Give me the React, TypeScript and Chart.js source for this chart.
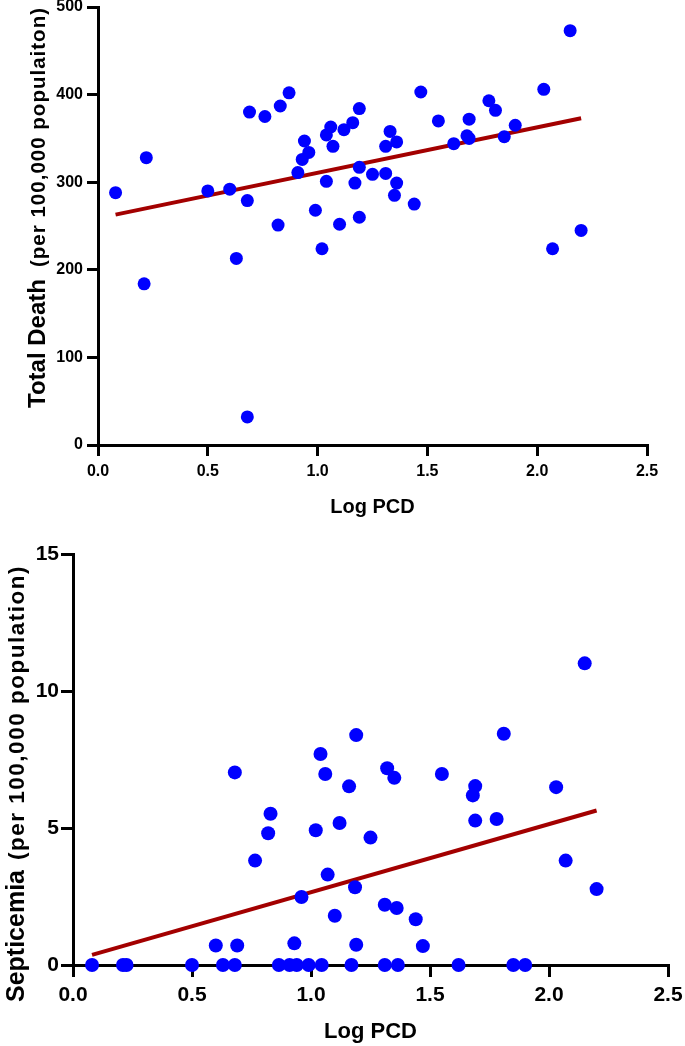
import React, { useEffect, useRef } from "react";
import { Chart, registerables } from "chart.js";

Chart.register(...registerables);

// ---------- data ----------
const topLogPCD = [
  0.08, 0.21, 0.22, 0.5, 0.6, 0.63, 0.68, 0.68, 0.69, 0.76, 0.82, 0.83, 0.87,
  0.91, 0.93, 0.94, 0.96, 0.99, 1.02, 1.04, 1.04, 1.06, 1.07, 1.1, 1.12, 1.16,
  1.17, 1.19, 1.19, 1.19, 1.25, 1.31, 1.31, 1.33, 1.36, 1.36, 1.35, 1.44, 1.47,
  1.55, 1.62, 1.68, 1.69, 1.69, 1.78, 1.81, 1.85, 1.9, 2.03, 2.07, 2.15, 2.2,
];
const topTotalDeath = [
  288, 184, 328, 290, 292, 213, 279, 32, 380, 375, 251, 387, 402,
  311, 326, 347, 334, 268, 224, 301, 354, 363, 341, 252, 360, 368,
  299, 384, 317, 260, 309, 310, 341, 358, 346, 299, 285, 275, 403,
  370, 344, 353, 350, 372, 393, 382, 352, 365, 406, 224, 473, 245,
];
const topFitX = [0.08, 2.2];
const topFitY = [263, 373];

const bottomLogPCD = [
  0.08, 0.21, 0.225, 0.5, 0.6, 0.63, 0.68, 0.68, 0.69, 0.765, 0.82, 0.83, 0.865,
  0.91, 0.93, 0.94, 0.96, 0.99, 1.02, 1.04, 1.045, 1.06, 1.07, 1.1, 1.12, 1.16,
  1.17, 1.185, 1.19, 1.19, 1.25, 1.31, 1.31, 1.32, 1.35, 1.36, 1.365, 1.44, 1.47,
  1.55, 1.62, 1.68, 1.69, 1.69, 1.78, 1.81, 1.85, 1.9, 2.03, 2.07, 2.15, 2.2,
];
const bottomSepticemia = [
  0, 0, 0, 0, 0.71, 0, 0, 7.03, 0.71, 3.81, 4.81, 5.52, 0,
  0, 0.79, 0, 2.48, 0, 4.92, 7.7, 0, 6.97, 3.3, 1.8, 5.18, 6.52,
  0, 2.84, 8.39, 0.74, 4.65, 2.2, 0, 7.18, 6.83, 2.08, 0, 1.67, 0.69,
  6.97, 0, 6.19, 6.53, 5.27, 5.33, 8.44, 0, 0, 6.49, 3.81, 11.01, 2.77,
];
const bottomFitX = [0.08, 2.2];
const bottomFitY = [0.37, 5.64];

const xTicks = [0, 0.5, 1, 1.5, 2, 2.5];
const topYTicks = [0, 100, 200, 300, 400, 500];
const bottomYTicks = [0, 5, 10, 15];

const xTitle = "Log PCD";
const topYTitleMain = "Total Death";
const topYTitleSub = "(per 100,000 populaiton)";
const bottomYTitleMain = "Septicemia";
const bottomYTitleSub = "(per 100,000 population)";

// ---------- styling ----------
const FAMILY = '"Liberation Sans", Arial, Helvetica, sans-serif';
const POINT_COLOR = "#0000FF";
const LINE_COLOR = "#A30000";

const yTitlePlugin = {
  id: "yTitle",
  afterDraw(chart: any, _args: any, opts: any) {
    const ctx = chart.ctx as CanvasRenderingContext2D;
    ctx.save();
    ctx.translate(opts.x, opts.y);
    ctx.rotate(-Math.PI / 2);
    ctx.fillStyle = "#000";
    ctx.textBaseline = "alphabetic";
    ctx.textAlign = "left";
    (ctx as any).letterSpacing = "0px";
    ctx.font = `bold ${opts.mainSize}px ${FAMILY}`;
    ctx.fillText(opts.main, 0, 0);
    ctx.font = `bold ${opts.subSize}px ${FAMILY}`;
    const w = ctx.measureText(opts.sub).width;
    const n = opts.sub.length;
    const ls = Math.max(0, (opts.subLength - w) / n);
    (ctx as any).letterSpacing = `${ls}px`;
    ctx.fillText(opts.sub, opts.subStart, 0);
    ctx.restore();
  },
};

type PanelProps = {
  width: number;
  height: number;
  xs: number[];
  ys: number[];
  fitX: number[];
  fitY: number[];
  yTicks: number[];
  yMax: number;
  area: { left: number; right: number; top: number; bottom: number };
  tickFont: number;
  xTitleFont: number;
  xTitlePadBottom: number;
  xTickPad: number;
  yTickPad: number;
  tickLen: number;
  pointRadius: number;
  yTitle: any;
};

function ScatterPanel(p: PanelProps) {
  const ref = useRef<HTMLCanvasElement | null>(null);
  useEffect(() => {
    if (!ref.current) return;
    const points = p.xs.map((x, i) => ({ x, y: p.ys[i] }));
    const fit = p.fitX.map((x, i) => ({ x, y: p.fitY[i] }));
    const axisCommon = {
      grid: {
        drawOnChartArea: false,
        drawTicks: true,
        tickLength: p.tickLen,
        lineWidth: 3,
        color: "#000",
      },
      border: { display: true, width: 3, color: "#000" },
    };
    const chart = new Chart(ref.current, {
      type: "scatter",
      data: {
        datasets: [
          {
            type: "scatter",
            data: points,
            backgroundColor: POINT_COLOR,
            borderWidth: 0,
            pointRadius: p.pointRadius,
            pointHoverRadius: p.pointRadius,
            clip: false,
            order: 1,
          } as any,
          {
            type: "line",
            data: fit,
            borderColor: LINE_COLOR,
            borderWidth: 4,
            pointRadius: 0,
            showLine: true,
            fill: false,
            clip: false,
            order: 2,
          } as any,
        ],
      },
      options: {
        animation: false,
        responsive: false,
        devicePixelRatio: 1,
        layout: {
          padding: {
            left: 0,
            top: p.area.top,
            right: p.width - p.area.right,
            bottom: 0,
          },
        },
        plugins: {
          legend: { display: false },
          tooltip: { enabled: false },
          yTitle: p.yTitle,
        } as any,
        scales: {
          x: {
            type: "linear",
            min: 0,
            max: 2.5,
            afterBuildTicks: (s: any) => {
              s.ticks = xTicks.map((v) => ({ value: v }));
            },
            afterFit: (s: any) => {
              s.height = p.height - p.area.bottom;
              s.paddingLeft = 0;
              s.paddingRight = 0;
            },
            ticks: {
              color: "#000",
              font: { family: FAMILY, size: p.tickFont, weight: "bold" },
              padding: p.xTickPad,
              maxRotation: 0,
              autoSkip: false,
              callback: (v: any) => Number(v).toFixed(1),
            },
            title: {
              display: true,
              text: xTitle,
              color: "#000",
              font: { family: FAMILY, size: p.xTitleFont, weight: "bold" },
              padding: { top: 0, bottom: p.xTitlePadBottom },
            },
            ...axisCommon,
          } as any,
          y: {
            type: "linear",
            min: 0,
            max: p.yMax,
            afterBuildTicks: (s: any) => {
              s.ticks = p.yTicks.map((v) => ({ value: v }));
            },
            afterFit: (s: any) => {
              s.width = p.area.left;
              s.paddingTop = 0;
              s.paddingBottom = 0;
            },
            ticks: {
              color: "#000",
              font: { family: FAMILY, size: p.tickFont, weight: "bold" },
              padding: p.yTickPad,
              autoSkip: false,
              callback: (v: any) => String(v),
            },
            ...axisCommon,
          } as any,
        },
      },
      plugins: [yTitlePlugin as any],
    });
    return () => chart.destroy();
  }, []);
  return (
    <canvas
      ref={ref}
      width={p.width}
      height={p.height}
      style={{ display: "block", width: p.width, height: p.height }}
    />
  );
}

export default function App() {
  return (
    <div
      style={{
        position: "absolute",
        left: 0,
        top: 0,
        width: 685,
        height: 1046,
        background: "#fff",
      }}
    >
      <ScatterPanel
        width={685}
        height={525}
        xs={topLogPCD}
        ys={topTotalDeath}
        fitX={topFitX}
        fitY={topFitY}
        yTicks={topYTicks}
        yMax={500}
        area={{ left: 98, right: 647, top: 7, bottom: 445 }}
        tickFont={16}
        xTitleFont={20}
        xTitlePadBottom={6}
        xTickPad={6}
        yTickPad={4}
        tickLen={11}
        pointRadius={6.5}
        yTitle={{
          x: 45,
          y: 408,
          main: topYTitleMain,
          sub: topYTitleSub,
          mainSize: 24,
          subSize: 20.5,
          subStart: 141,
          subLength: 260,
        }}
      />
      <ScatterPanel
        width={685}
        height={521}
        xs={bottomLogPCD}
        ys={bottomSepticemia}
        fitX={bottomFitX}
        fitY={bottomFitY}
        yTicks={bottomYTicks}
        yMax={15}
        area={{ left: 73, right: 668, top: 29, bottom: 440 }}
        tickFont={21}
        xTitleFont={22}
        xTitlePadBottom={1}
        xTickPad={6}
        yTickPad={2}
        tickLen={12}
        pointRadius={7}
        yTitle={{
          x: 24,
          y: 477,
          main: bottomYTitleMain,
          sub: bottomYTitleSub,
          mainSize: 25,
          subSize: 22.5,
          subStart: 142,
          subLength: 295,
        }}
      />
    </div>
  );
}
